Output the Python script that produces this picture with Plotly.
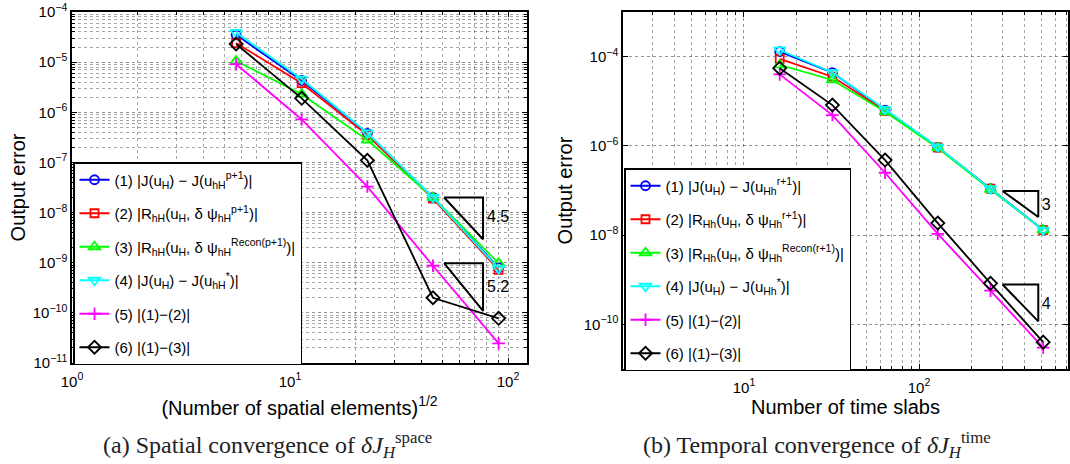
import plotly.graph_objects as go

# ---------------- data ----------------
# (a) spatial convergence
x_space = [5.66, 11.31, 22.63, 45.25, 90.51]
space_1 = [3.5e-5, 4.3e-6, 3.8e-7, 2.0e-8, 8.0e-10]
space_2 = [2.4e-5, 3.8e-6, 3.5e-7, 1.9e-8, 7.2e-10]
space_3 = [1.05e-5, 2.3e-6, 2.8e-7, 2.0e-8, 9.8e-10]
space_4 = [3.9e-5, 4.6e-6, 3.9e-7, 2.0e-8, 7.7e-10]
space_5 = [9.1e-6, 7.2e-7, 3.3e-8, 8.7e-10, 2.46e-11]
space_6 = [2.3e-5, 1.9e-6, 1.1e-7, 2.0e-10, 7.8e-11]

# (b) temporal convergence
x_time = [16, 32, 64, 128, 256, 512]
time_1 = [1.30e-4, 4.4e-5, 6.3e-6, 9.3e-7, 1.1e-7, 1.3e-8]
time_2 = [8.9e-5, 3.55e-5, 6.1e-6, 9.2e-7, 1.1e-7, 1.3e-8]
time_3 = [6.5e-5, 3.0e-5, 5.8e-6, 9.0e-7, 1.05e-7, 1.3e-8]
time_4 = [1.41e-4, 4.4e-5, 6.6e-6, 9.5e-7, 1.1e-7, 1.3e-8]
time_5 = [4.0e-5, 4.9e-6, 2.5e-7, 1.07e-8, 5.7e-10, 3.0e-11]
time_6 = [5.5e-5, 8.2e-6, 4.8e-7, 1.86e-8, 8.3e-10, 4.0e-11]

labels_space = [
    "(1) |J(u<sub>H</sub>) \u2212 J(u<sub>hH</sub><sup>p+1</sup>)|",
    "(2) |R<sub>hH</sub>(u<sub>H</sub>, \u03b4 \u03c8<sub>hH</sub><sup>p+1</sup>)|",
    "(3) |R<sub>hH</sub>(u<sub>H</sub>, \u03b4 \u03c8<sub>hH</sub><sup>Recon(p+1)</sup>)|",
    "(4) |J(u<sub>H</sub>) \u2212 J(u<sub>hH</sub><sup>*</sup>)|",
    "(5) |(1)\u2212(2)|",
    "(6) |(1)\u2212(3)|",
]
labels_time = [
    "(1) |J(u<sub>H</sub>) \u2212 J(u<sub>Hh</sub><sup>r+1</sup>)|",
    "(2) |R<sub>Hh</sub>(u<sub>H</sub>, \u03b4 \u03c8<sub>Hh</sub><sup>r+1</sup>)|",
    "(3) |R<sub>Hh</sub>(u<sub>H</sub>, \u03b4 \u03c8<sub>Hh</sub><sup>Recon(r+1)</sup>)|",
    "(4) |J(u<sub>H</sub>) \u2212 J(u<sub>Hh</sub><sup>*</sup>)|",
    "(5) |(1)\u2212(2)|",
    "(6) |(1)\u2212(3)|",
]

# slope triangles
tri_space_x = [50.9, 76.8, 76.8, 50.9]
tri_space_a_y = [2.0e-8, 2.0e-8, 2.93e-9, 2.0e-8]
tri_space_b_y = [9.8e-10, 9.8e-10, 1.09e-10, 9.8e-10]
slope_space_text = ["4.5", "5.2"]
slope_space_x = [90, 90]
slope_space_y = [7.8e-9, 3.1e-10]

tri_time_x = [300, 480, 480, 300]
tri_time_a_y = [9.75e-8, 9.75e-8, 2.54e-8, 9.75e-8]
tri_time_b_y = [7.8e-10, 7.8e-10, 1.17e-10, 7.8e-10]
slope_time_text = ["3", "4"]
slope_time_x = [532, 532]
slope_time_y = [4.6e-8, 2.77e-10]

# ---------------- styling ----------------
W, H = 1070, 464
FONT = "Liberation Sans"
colors = ["#0000ff", "#ff0000", "#00ff00", "#00ffff", "#ff00ff", "#000000"]
symbols = ["circle-open", "square-open", "triangle-up-open",
           "triangle-down-open", "cross-thin-open", "diamond-open"]
msizes = [9, 8, 10, 10, 9, 10]

fig = go.Figure()

space_series = [space_1, space_2, space_3, space_4, space_5, space_6]
time_series = [time_1, time_2, time_3, time_4, time_5, time_6]

for i, ys in enumerate(space_series):
    fig.add_trace(go.Scatter(
        x=x_space, y=ys, mode="lines+markers", name=labels_space[i],
        legendgroup="s%d" % i,
        line=dict(color=colors[i], width=1.8),
        marker=dict(symbol=symbols[i], size=msizes[i], color=colors[i],
                    line=dict(color=colors[i], width=1.8)),
        xaxis="x", yaxis="y", legend="legend"))

for i, ys in enumerate(time_series):
    fig.add_trace(go.Scatter(
        x=x_time, y=ys, mode="lines+markers", name=labels_time[i],
        legendgroup="t%d" % i,
        line=dict(color=colors[i], width=1.8),
        marker=dict(symbol=symbols[i], size=msizes[i], color=colors[i],
                    line=dict(color=colors[i], width=1.8)),
        xaxis="x2", yaxis="y2", legend="legend2"))

for ty in (tri_space_a_y, tri_space_b_y):
    fig.add_trace(go.Scatter(x=tri_space_x, y=ty, mode="lines",
                             line=dict(color="black", width=2),
                             showlegend=False, hoverinfo="skip",
                             xaxis="x", yaxis="y"))
for ty in (tri_time_a_y, tri_time_b_y):
    fig.add_trace(go.Scatter(x=tri_time_x, y=ty, mode="lines",
                             line=dict(color="black", width=2),
                             showlegend=False, hoverinfo="skip",
                             xaxis="x2", yaxis="y2"))

fig.add_trace(go.Scatter(x=slope_space_x, y=slope_space_y, text=slope_space_text,
                         mode="text", textposition="middle center",
                         textfont=dict(family=FONT, size=16, color="black"),
                         showlegend=False, hoverinfo="skip", xaxis="x", yaxis="y"))
fig.add_trace(go.Scatter(x=slope_time_x, y=slope_time_y, text=slope_time_text,
                         mode="text", textposition="middle center",
                         textfont=dict(family=FONT, size=16, color="black"),
                         showlegend=False, hoverinfo="skip", xaxis="x2", yaxis="y2"))


def pow_label(e):
    return "10<sup>" + ("\u2212" if e < 0 else "") + str(abs(e)) + "</sup>"


def minor_vals(lo, hi):
    return [m * 10 ** e for e in range(lo, hi) for m in range(2, 10)]


GRID = "rgba(60,60,60,0.55)"
GRIDMIN = "rgba(60,60,60,0.45)"
tickfont = dict(family=FONT, size=15, color="black")
titlefont = dict(family=FONT, size=20, color="black")


def axis_common():
    return dict(type="log", showline=True, linecolor="black", linewidth=1.5,
                mirror="ticks", ticks="inside", ticklen=5, tickcolor="black",
                showgrid=True, gridcolor=GRID, griddash="dot", gridwidth=1,
                zeroline=False, tickfont=tickfont, tickmode="array",
                automargin=False)


xa = axis_common()
xa.update(domain=[72 / W, 527 / W], range=[0, 2.087], anchor="y",
          tickvals=[1, 10, 100], ticktext=[pow_label(e) for e in (0, 1, 2)],
          ticklabelstandoff=4,
          minor=dict(tickmode="array", tickvals=minor_vals(0, 3), ticks="inside",
                     ticklen=3, tickcolor="black", showgrid=True,
                     gridcolor=GRIDMIN, griddash="dot", gridwidth=1),
          title=dict(text="(Number of spatial elements)<sup>1/2</sup>",
                     font=titlefont, standoff=12))

ya = axis_common()
ya.update(domain=[1 - 363 / H, 1 - 12 / H], range=[-11, -4], anchor="x",
          tickvals=[10.0 ** e for e in range(-11, -3)],
          ticktext=[pow_label(e) for e in range(-11, -3)],
          minor=dict(tickmode="array", tickvals=minor_vals(-11, -4), ticks="inside",
                     ticklen=3, tickcolor="black", showgrid=True,
                     gridcolor=GRIDMIN, griddash="dot", gridwidth=1),
          title=dict(text="Output error", font=titlefont, standoff=2))

xa2 = axis_common()
xa2.update(domain=[623 / W, 1068 / W], range=[0.309, 2.851], anchor="y2",
           tickvals=[10, 100], ticktext=[pow_label(e) for e in (1, 2)],
           ticklabelstandoff=4,
           minor=dict(tickmode="array", tickvals=minor_vals(0, 3), ticks="inside",
                      ticklen=3, tickcolor="black", showgrid=True,
                      gridcolor=GRIDMIN, griddash="dot", gridwidth=1),
           title=dict(text="Number of time slabs", font=titlefont, standoff=5))

ya2 = axis_common()
ya2.update(domain=[1 - 369 / H, 1 - 12 / H], range=[-11, -3], anchor="x2",
           tickvals=[10.0 ** e for e in (-10, -8, -6, -4)],
           ticktext=[pow_label(e) for e in (-10, -8, -6, -4)],
           title=dict(text="Output error", font=titlefont, standoff=6))

legend_common = dict(bgcolor="white", bordercolor="black", borderwidth=1.5,
                     font=dict(family=FONT, size=15, color="black"),
                     xanchor="left", yanchor="top", xref="paper", yref="paper",
                     itemwidth=30, tracegroupgap=11)

fig.update_layout(
    width=W, height=H, margin=dict(l=0, r=0, t=0, b=0),
    paper_bgcolor="white", plot_bgcolor="white",
    font=dict(family=FONT, color="black"),
    xaxis=xa, yaxis=ya, xaxis2=xa2, yaxis2=ya2,
    legend=dict(x=73 / W, y=1 - 162 / H, **legend_common),
    legend2=dict(x=624 / W, y=1 - 168 / H, **legend_common),
    annotations=[
        dict(text="(a) Spatial convergence of <i>\u03b4J</i><sub><i>H</i></sub><sup>space</sup>",
             x=267 / W, y=1 - 445 / H, xref="paper", yref="paper",
             xanchor="center", yanchor="middle", showarrow=False,
             font=dict(family="Liberation Serif", size=24, color="#222")),
        dict(text="(b) Temporal convergence of <i>\u03b4J</i><sub><i>H</i></sub><sup>time</sup>",
             x=817 / W, y=1 - 445 / H, xref="paper", yref="paper",
             xanchor="center", yanchor="middle", showarrow=False,
             font=dict(family="Liberation Serif", size=24, color="#222")),
    ],
)

fig.write_html("out.html")
